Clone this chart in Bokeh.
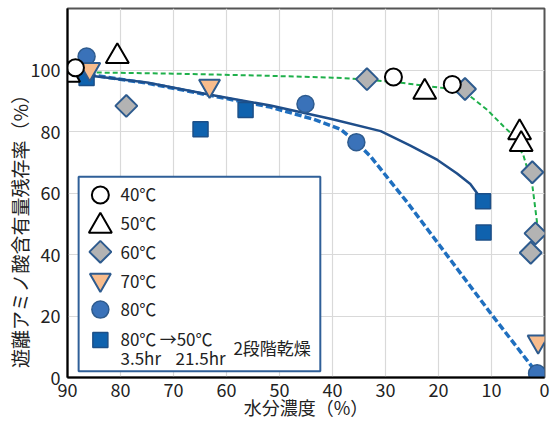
from bokeh.plotting import figure
from bokeh.models import Range1d, FixedTicker, Label
from bokeh.embed import file_html
from bokeh.resources import INLINE

FONT = "Noto Sans CJK JP"

# ---- data (moisture %, retention %) ----
x40 = [88.5, 28.5, 17.4]
y40 = [100.8, 97.8, 95.4]
x50 = [89.8, 80.6, 22.6, 4.7, 4.4]
y50 = [98.4, 104.5, 92.9, 79.7, 75.9]
x60 = [78.9, 33.5, 15.0, 2.3, 1.7, 2.6]
y60 = [88.4, 97.1, 93.9, 66.8, 46.9, 40.6]
x70 = [85.8, 63.2, 1.2]
y70 = [100.4, 94.9, 11.7]
x80 = [86.4, 45.1, 35.5, 1.4]
y80 = [104.5, 89.0, 76.6, 1.4]
x8050 = [86.4, 64.9, 56.4, 11.6, 11.5]
y8050 = [97.5, 80.8, 87.1, 57.4, 47.2]

# trend curves
gx = [86, 70, 52, 40, 33.5, 27, 19, 14, 10.8, 7.7, 6.4, 4.0, 2.3, 1.7, 1.3]
gy = [99.3, 98.9, 98.2, 97.6, 97.0, 95.9, 94.2, 91.5, 87.1, 81.7, 79.6, 72.4, 62.6, 54.5, 49.0]
sx = [86, 75, 63.6, 51.7, 40.4, 30.9, 25.3, 20.2, 16.5, 14.0, 11.6]
sy = [98.3, 96.0, 92.2, 88.5, 84.2, 80.2, 75.5, 70.8, 66.4, 63.0, 57.4]
dx = [86, 75, 63.6, 51.7, 43.5, 38.5, 35.5, 32.8, 25.9, 10.2, 1.4]
dy = [98.6, 95.8, 92.0, 88.0, 84.0, 80.8, 76.6, 71.9, 57.0, 21.0, 1.4]

x_ticks = [0, 10, 20, 30, 40, 50, 60, 70, 80, 90]
y_ticks = [0, 20, 40, 60, 80, 100]
legend_labels = ["40℃", "50℃", "60℃", "70℃", "80℃"]
x_title = "水分濃度（%）"
y_title = "遊離アミノ酸含有量残存率（%）"

# ---- styles ----
BORDER = "#2E5B8E"
st40 = dict(marker="circle", size=17, fill_color="white", line_color="black", line_width=2)
st50 = dict(marker="triangle", size=23, fill_color="white", line_color="black", line_width=2)
st60 = dict(marker="square", size=15.5, angle=0.785398, fill_color="#B3B3B3", line_color=BORDER, line_width=2)
st70 = dict(marker="inverted_triangle", size=21, fill_color="#F8BC8C", line_color=BORDER, line_width=2)
st80 = dict(marker="circle", size=17, fill_color="#3A72B9", line_color=BORDER, line_width=1.5)
st85 = dict(marker="square", size=15, fill_color="#0F62AE", line_color="#1C4F88", line_width=1.5)

p = figure(width=553, height=423, x_range=Range1d(90, 0), y_range=Range1d(0, 120.1),
           output_backend="svg", toolbar_location=None,
           min_border_left=67, min_border_right=9, min_border_top=8, min_border_bottom=46)
p.background_fill_color = "white"
p.border_fill_color = "white"
p.outline_line_color = "#555555"
p.outline_line_width = 2

for ax in (p.xaxis, p.yaxis):
    ax.axis_line_color = "black"
    ax.axis_line_width = 2
    ax.major_tick_line_color = None
    ax.minor_tick_line_color = None
    ax.major_label_text_font = FONT
    ax.major_label_text_font_size = "18px"
    ax.major_label_text_color = "#222222"
    ax.axis_label_text_font = FONT
    ax.axis_label_text_font_style = "normal"
    ax.axis_label_text_color = "#222222"
p.xaxis.ticker = FixedTicker(ticks=x_ticks)
p.yaxis.ticker = FixedTicker(ticks=y_ticks)
p.xaxis.major_label_standoff = -1
p.xaxis.axis_label_standoff = -6
p.yaxis.major_label_standoff = 1
p.yaxis.axis_label_standoff = -5
p.xaxis.axis_label = x_title
p.xaxis.axis_label_text_font_size = "18px"
p.yaxis.axis_label = y_title + "\u3000" * 4
p.yaxis.axis_label_text_font_size = "19px"

p.xgrid.ticker = FixedTicker(ticks=x_ticks)
p.ygrid.ticker = FixedTicker(ticks=y_ticks)
p.grid.grid_line_color = "#D9D9D9"
p.grid.grid_line_width = 1.2

# curves
p.line(gx, gy, line_color="#1FB04B", line_width=2, line_dash="5 3")
p.line(dx, dy, line_color="#1F6FBF", line_width=3.5, line_dash="7 3")
p.line(sx, sy, line_color="#1F4E8A", line_width=2.5)

# points
p.scatter(x8050, y8050, **st85)
p.scatter(x80, y80, **st80)
p.scatter(x60, y60, **st60)
p.scatter(x70, y70, **st70)
p.scatter(x50, y50, **st50)
p.scatter(x40, y40, **st40)

# legend box (manual, placed in data space)
p.quad(left=[87.9], right=[42.3], bottom=[2.0], top=[65.3], fill_color="white",
       line_color="#2F5F98", line_width=2)
lx = 83.8
ly = [59.4, 49.3, 40.9, 31.8, 22.1, 12.2]
for st, yy in zip([st40, st50, st60, st70, st80, st85], ly):
    p.scatter([lx], [yy], **st)

def lab(x, y, t, size="17px"):
    p.add_layout(Label(x=x, y=y, text=t, text_font=FONT, text_font_size=size,
                       text_baseline="middle", text_align="left", text_color="#222222"))

for t, yy in zip(legend_labels, [59.9, 50.3, 41.1, 31.6, 22.4]):
    lab(80.0, yy, t)
lab(80.0, 12.7, "80℃")
lab(72.6, 12.7, "→")
lab(69.4, 12.7, "50℃")
lab(80.0, 6.5, "3.5hr")
lab(69.6, 6.5, "21.5hr")
lab(58.7, 9.8, "2段階乾燥")

open("out.html", "w").write(file_html(p, INLINE))
